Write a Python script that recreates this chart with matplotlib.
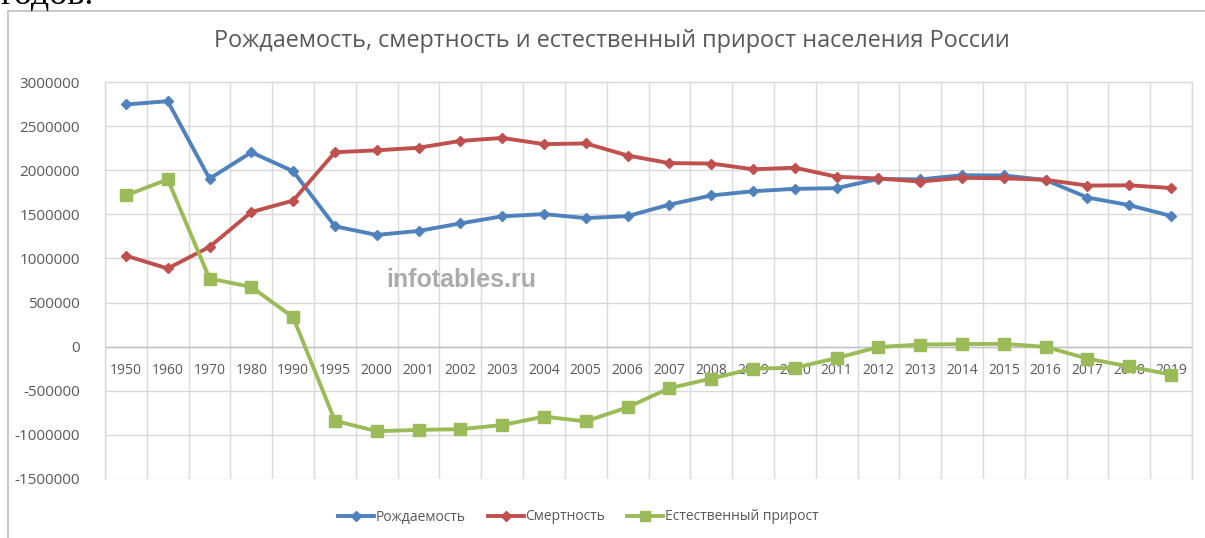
import matplotlib
matplotlib.use("Agg")
import matplotlib.pyplot as plt
from matplotlib.patches import Rectangle
from matplotlib.lines import Line2D

years = ["1950", "1960", "1970", "1980", "1990", "1995", "2000", "2001", "2002",
         "2003", "2004", "2005", "2006", "2007", "2008", "2009", "2010", "2011",
         "2012", "2013", "2014", "2015", "2016", "2017", "2018", "2019"]

births = [2745000, 2782353, 1903713, 2202779, 1988858, 1363806, 1266800, 1311604,
          1396967, 1477301, 1502477, 1457376, 1479637, 1610122, 1713947, 1761687,
          1788948, 1796629, 1902084, 1895822, 1942683, 1940579, 1888729, 1690307,
          1604344, 1481074]

deaths = [1031000, 886090, 1131183, 1525755, 1655993, 2203811, 2225332, 2254856,
          2332272, 2365826, 2295402, 2303935, 2166703, 2080445, 2075954, 2010543,
          2028516, 1925720, 1906335, 1871809, 1913613, 1908541, 1891015, 1826125,
          1828910, 1798307]

natural = [1714000, 1896263, 772530, 677024, 332865, -840005, -958532, -943252,
           -935305, -888525, -792925, -846559, -687066, -470323, -362007, -248856,
           -239568, -129091, -4251, 24013, 29070, 32038, -2286, -135818, -224566,
           -317233]

yticks = [3000000, 2500000, 2000000, 1500000, 1000000, 500000, 0,
          -500000, -1000000, -1500000]

title = "Рождаемость, смертность и естественный прирост населения России"
labels = ["Рождаемость", "Смертность", "Естественный прирост"]
colors = ["#4F81BD", "#C0504D", "#9BBB59"]

W, H = 1205, 538
fig = plt.figure(figsize=(W / 100, H / 100), dpi=100)
fig.patch.set_facecolor("white")

# outer chart frame (cut off at right/bottom)
fig.patches.append(Rectangle((8 / W, -0.05), 1.1, 1 - 10.5 / H + 0.05,
                             transform=fig.transFigure, fill=False,
                             edgecolor="#BFBFBF", linewidth=1.2))
# cut-off text above chart
fig.text(0.0, 1 - 4 / H, "годов.", family="Liberation Serif", fontsize=26,
         color="black", ha="left", va="baseline")

ax = fig.add_axes([105 / W, 1 - 479 / H, (1192 - 105) / W, (479 - 82) / H])
x = list(range(len(years)))

ax.plot(x, births, color=colors[0], lw=2.8, marker="D", ms=5.5,
        label=labels[0], zorder=4, solid_joinstyle="round")
ax.plot(x, deaths, color=colors[1], lw=2.8, marker="D", ms=5.5,
        label=labels[1], zorder=4, solid_joinstyle="round")
ax.plot(x, natural, color=colors[2], lw=2.8, marker="s", ms=8,
        label=labels[2], zorder=4, solid_joinstyle="round")

ax.set_xlim(-0.5, len(years) - 0.5)
ax.set_ylim(-1500000, 3000000)
ax.set_yticks(yticks)
ax.set_yticklabels([str(v) for v in yticks])
ax.set_xticks(x)
ax.set_xticklabels(years)

ax.set_xticks([i - 0.5 for i in range(len(years) + 1)] + [i for i in x], minor=True)
ax.grid(True, which="minor", axis="x", color="#D9D9D9", lw=1)
ax.grid(True, which="major", axis="y", color="#D9D9D9", lw=1)
ax.grid(False, which="major", axis="x")
ax.set_axisbelow(True)

for s in ["left", "right", "top"]:
    ax.spines[s].set_color("#D9D9D9")
    ax.spines[s].set_linewidth(1)
ax.spines["bottom"].set_position(("data", 0))
ax.spines["bottom"].set_color("#BFBFBF")
ax.spines["bottom"].set_linewidth(1)
ax.spines["bottom"].set_zorder(1)

ax.tick_params(axis="both", which="both", length=0)
ax.tick_params(axis="y", pad=18, labelsize=11, labelcolor="#595959")
ax.tick_params(axis="x", pad=12, labelsize=10, labelcolor="#595959")
for t in ax.get_yticklabels() + ax.get_xticklabels():
    t.set_family("Open Sans")

fig.text(612 / W, 1 - 41 / H, title, family="Open Sans", fontsize=16.8,
         color="#595959", ha="center", va="center")

fig.text(461 / W, 1 - 280 / H, "infotables.ru", family="Liberation Sans",
         fontweight="bold", fontsize=18, color="#ABABAB", ha="center",
         va="center", zorder=3)

handles = [Line2D([], [], color=colors[0], lw=2.8, marker="D", ms=5),
           Line2D([], [], color=colors[1], lw=2.8, marker="D", ms=5),
           Line2D([], [], color=colors[2], lw=2.8, marker="s", ms=7)]
fig.legend(handles, labels, loc="center", bbox_to_anchor=(578 / W, 1 - 517 / H),
           ncol=3, frameon=False, prop={"family": "Open Sans", "size": 10},
           handlelength=2.6, handletextpad=0.1, columnspacing=1.6,
           labelcolor="#595959")

fig.savefig("out.png", dpi=100, facecolor="white")
